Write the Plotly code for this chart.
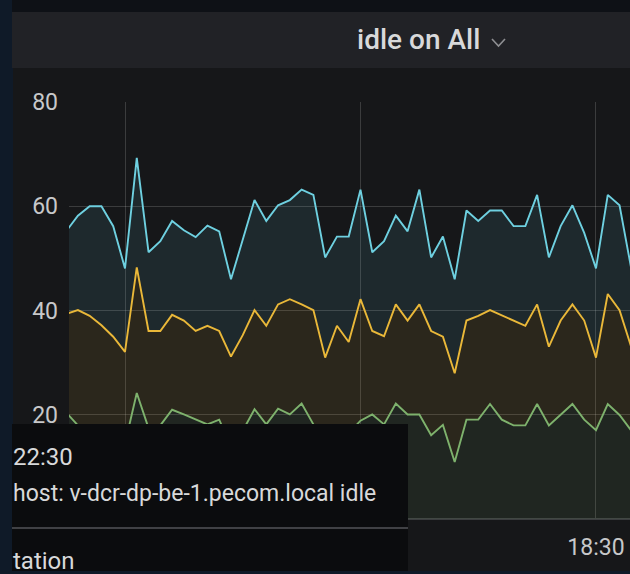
import pandas as pd
import plotly.graph_objects as go

W, H = 630, 574

# ---- data ----
start_time = "2019-06-10 17:22:30"
n_points = 49
times = pd.date_range(start_time, periods=n_points, freq="90s")

blue_vals = [55.2, 58.2, 60.0, 60.0, 56.2, 48.1, 69.3, 51.2, 53.3, 57.2,
             55.4, 54.1, 56.3, 55.2, 46.0, 53.5, 61.2, 57.2, 60.2, 61.2,
             63.2, 62.2, 50.2, 54.2, 54.2, 63.2, 51.2, 53.3, 58.2, 55.2,
             63.2, 50.2, 54.2, 46.0, 59.2, 57.2, 59.2, 59.2, 56.2, 56.2,
             62.2, 50.2, 56.2, 60.2, 54.9, 48.1, 62.2, 60.2, 48.0]
yellow_vals = [39.4, 40.1, 39.0, 37.2, 35.0, 32.1, 48.3, 36.1, 36.1, 39.2,
               38.1, 36.1, 37.1, 36.1, 31.2, 35.3, 40.1, 37.1, 41.2, 42.2,
               41.2, 40.1, 31.0, 37.1, 34.0, 42.2, 36.1, 35.1, 41.2, 38.1,
               41.2, 36.1, 35.0, 28.0, 38.1, 39.0, 40.1, 39.1, 38.1, 37.1,
               41.2, 33.1, 38.1, 41.2, 38.1, 31.0, 43.2, 40.1, 33.0]
green_vals = [20.5, 18.0, 18.0, 17.8, 16.5, 14.5, 24.2, 17.5, 18.0, 21.0,
              20.1, 19.1, 18.2, 19.1, 14.0, 17.0, 21.1, 18.2, 21.2, 20.1,
              22.2, 18.2, 13.5, 17.5, 16.5, 18.9, 20.1, 18.2, 22.2, 20.1,
              20.1, 16.1, 18.1, 11.0, 19.1, 19.1, 22.1, 19.1, 18.0, 18.0,
              22.1, 18.0, 20.1, 22.1, 19.1, 17.1, 22.1, 20.0, 17.0]

y_ticks = [0, 20, 40, 60, 80]
x_range = ["2019-06-10 17:22:52", "2019-06-10 18:34:20"]
x_ticks = ["2019-06-10 17:30:00", "2019-06-10 18:00:00", "2019-06-10 18:30:00"]

title_text = "idle on All"
tooltip_time = "22:30"
tooltip_series = "host: v-dcr-dp-be-1.pecom.local idle"
tooltip_more = "tation"

GREEN, YELLOW, BLUE = "#7eb26d", "#eab839", "#6ed0e0"


def px(x):
    return x / W


def py(y):
    return 1 - y / H


fig = go.Figure()
fig.add_trace(go.Scatter(x=times, y=green_vals, mode="lines",
                         line=dict(color=GREEN, width=1.9),
                         fill="tozeroy", fillcolor="rgba(126,178,109,0.10)"))
fig.add_trace(go.Scatter(x=times, y=yellow_vals, mode="lines",
                         line=dict(color=YELLOW, width=1.9),
                         fill="tonexty", fillcolor="rgba(234,184,57,0.10)"))
fig.add_trace(go.Scatter(x=times, y=blue_vals, mode="lines",
                         line=dict(color=BLUE, width=1.9),
                         fill="tonexty", fillcolor="rgba(110,208,224,0.10)"))

grid = "rgba(255,255,255,0.16)"
tickfont = dict(family="Roboto", size=23, color="#c7c8ca")

fig.update_layout(
    width=W, height=H,
    margin=dict(l=0, r=0, t=0, b=0, pad=0, autoexpand=False),
    paper_bgcolor="#0f1a28",
    plot_bgcolor="rgba(0,0,0,0)",
    showlegend=False,
    hovermode=False,
    xaxis=dict(domain=[px(69), 1], range=x_range, type="date",
               tickvals=x_ticks, tickformat="%H:%M", showgrid=True,
               gridcolor=grid, gridwidth=1, zeroline=False, showline=False,
               ticks="", tickfont=tickfont, ticklabelstandoff=12,
               automargin=False),
    yaxis=dict(domain=[py(519.3), py(102)], range=[0, 80], tickvals=y_ticks,
               showgrid=True, gridcolor=grid, gridwidth=1,
               zeroline=True, zerolinecolor="#3c3d40", zerolinewidth=2,
               showline=False, ticks="", tickfont=tickfont,
               ticklabelstandoff=10, automargin=False),
)

shapes = [
    # page top strip
    dict(type="rect", xref="paper", yref="paper", x0=px(12), x1=1,
         y0=py(0), y1=py(12), fillcolor="#0e1116", line_width=0, layer="below"),
    # panel header
    dict(type="rect", xref="paper", yref="paper", x0=px(12), x1=1,
         y0=py(12), y1=py(68), fillcolor="#212226", line_width=0, layer="below"),
    # panel body
    dict(type="rect", xref="paper", yref="paper", x0=px(13), x1=1,
         y0=py(68), y1=py(571), fillcolor="#161719", line_width=0, layer="below"),
    # chevron next to title
    dict(type="path", xref="paper", yref="paper",
         path=f"M {px(492)} {py(39)} L {px(498.5)} {py(46)} L {px(505)} {py(39)}",
         line=dict(color="#8e8f92", width=1.6), layer="above"),
    # tooltip box
    dict(type="rect", xref="paper", yref="paper", x0=px(12), x1=px(408),
         y0=py(424), y1=py(571), fillcolor="#0b0c0e", line_width=0, layer="above"),
    # tooltip divider
    dict(type="line", xref="paper", yref="paper", x0=px(12), x1=px(408),
         y0=py(528), y1=py(528), line=dict(color="#404145", width=2), layer="above"),
]
fig.update_layout(shapes=shapes)

txt = "#d8d9da"
annotations = [
    dict(text=title_text, x=px(418), y=py(40), xref="paper", yref="paper",
         xanchor="center", yanchor="middle", showarrow=False,
         font=dict(family="Roboto", size=28, color=txt, weight=500)),
    dict(text=tooltip_time, x=px(11), y=py(457), xref="paper", yref="paper",
         xanchor="left", yanchor="middle", showarrow=False,
         font=dict(family="Roboto", size=24, color=txt)),
    dict(text=tooltip_series, x=px(11), y=py(493), xref="paper", yref="paper",
         xanchor="left", yanchor="middle", showarrow=False,
         font=dict(family="Roboto", size=23, color=txt)),
    dict(text=tooltip_more, x=px(11), y=py(561), xref="paper", yref="paper",
         xanchor="left", yanchor="middle", showarrow=False,
         font=dict(family="Roboto", size=24, color=txt)),
]
fig.update_layout(annotations=annotations)

fig.write_html(
    "out.html",
    config={"displayModeBar": False},
    post_script="document.body.style.margin='0';document.body.style.overflow='hidden';",
)
